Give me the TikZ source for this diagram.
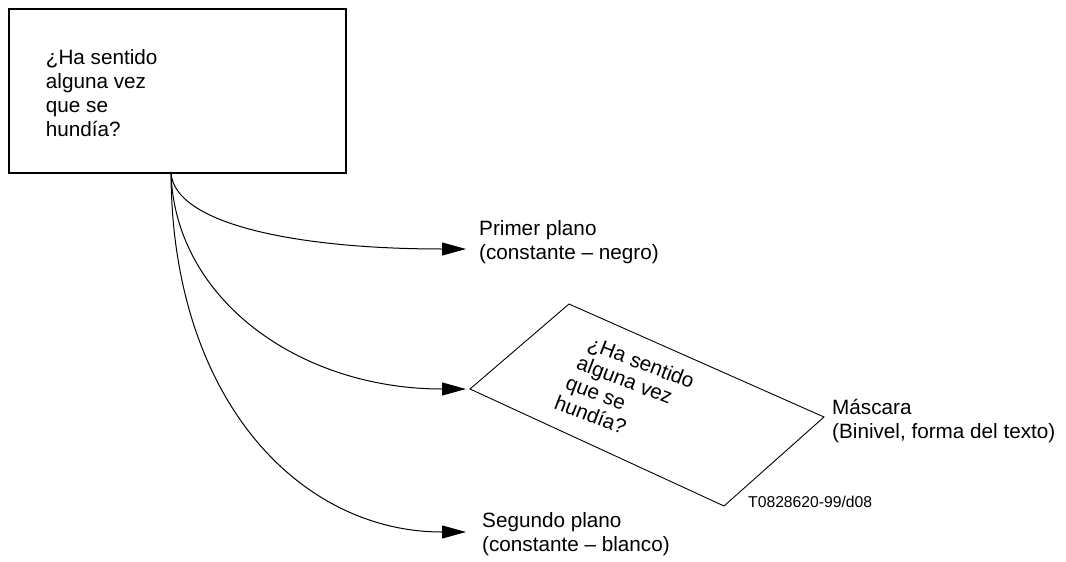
\documentclass[tikz,border=0pt]{standalone}
\usepackage{fontspec}
\setmainfont{Liberation Sans}
\usetikzlibrary{arrows.meta}
\begin{document}
\begin{tikzpicture}[x=1pt,y=-1pt,
  lbl/.style={anchor=base west,align=left,inner sep=0pt,font=\fontsize{20.7}{24}\selectfont},
  mline/.style={lbl,rotate=-21},
  small/.style={anchor=base west,inner sep=0pt,font=\fontsize{15.7}{18}\selectfont},
  conn/.style={line width=1pt,-{Triangle[length=24pt,width=13pt]}},
  frame/.style={draw,line width=1.2pt,inner sep=0pt,minimum width=337pt,minimum height=164pt}]
\useasboundingbox (0,0) rectangle (1066,562);
% source box
\node[frame] (box) at (177.5,91) {};
\node[lbl] (boxtext) at (45.7,136) {¿Ha sentido\\alguna vez\\que se\\hundía?};
\coordinate (o) at (171,173);
% mask parallelogram
\coordinate (pl) at (470,389);
\coordinate (pt) at (569,304);
\coordinate (pr) at (824,417);
\coordinate (pb) at (724,506);
\draw[line width=0.9pt] (pl) -- (pt) -- (pr) -- (pb) -- cycle;
\node[mline] (m1) at (586.5,349) {¿Ha sentido};
\node[mline] (m2) at (575.3,368.7) {alguna vez};
\node[mline] (m3) at (564.1,388.4) {que se};
\node[mline] (m4) at (552.9,408.1) {hundía?};
% labels
\node[lbl] (fg) at (479,259) {Primer plano\\(constante – negro)};
\node[lbl] (mk) at (832,438) {Máscara\\(Binivel, forma del texto)};
\node[lbl] (bg) at (482,551) {Segundo plano\\(constante – blanco)};
\node[small] (id) at (748,507) {T0828620-99/d08};
\coordinate (e1) at (466,249);
\coordinate (e2) at (466,389);
\coordinate (e3) at (466,532);
% connectors
\draw[conn] (o) .. controls (175,225) and (300,249) .. (e1);
\draw[conn] (o) .. controls (175,300) and (300,389) .. (e2);
\draw[conn] (o) .. controls (172,400) and (300,532) .. (e3);
\end{tikzpicture}
\end{document}
